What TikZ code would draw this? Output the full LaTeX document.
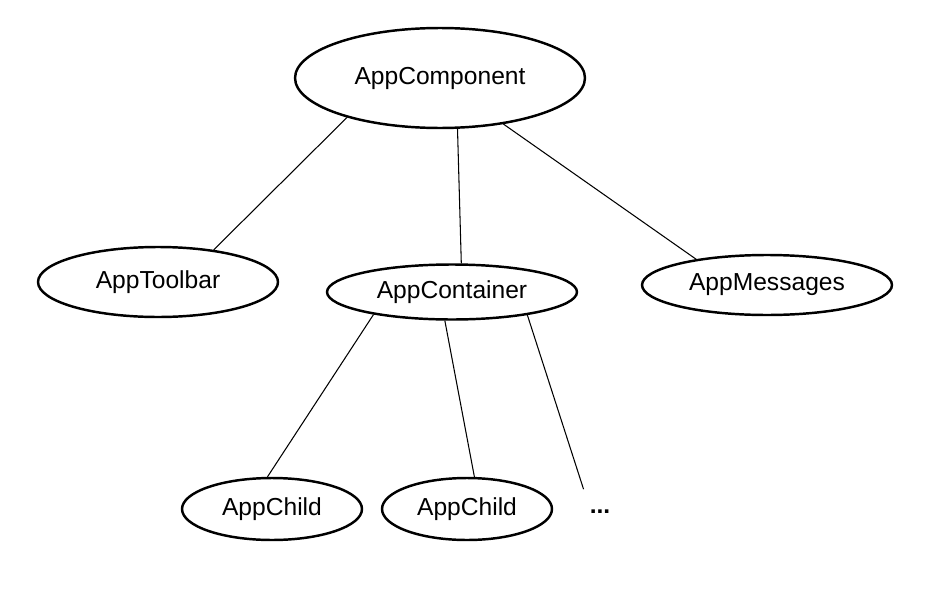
\documentclass[tikz,border=0pt]{standalone}
\usepackage{fontspec}
\setmainfont{Liberation Sans}
\usepackage{tikz}
\usetikzlibrary{shapes.geometric}
\usetikzlibrary{positioning}

\begin{document}
\begin{tikzpicture}[x=0.02cm, y=-0.02cm,
    part/.style={draw, ellipse, line width=1.4pt, inner sep=0pt, font=\fontsize{14}{16}\selectfont},
    link/.style={line width=0.6pt}]
            \useasboundingbox (0,0) rectangle (926,605);
            \draw (440,78) node[part, minimum width=5.8cm, minimum height=2cm]       (comp) {AppComponent};
            \draw (158,282) node[part, minimum width=4.8cm, minimum height=1.4cm]    (tool) {AppToolbar};
            \draw (452,292) node[part, minimum width=5cm, minimum height=1.1cm]      (cont) {AppContainer};
            \draw (767,285) node[part, minimum width=5cm, minimum height=1.2cm]      (msg) {AppMessages};
            \draw (272,509) node[part, minimum width=3.6cm, minimum height=1.24cm]   (childa) {AppChild};
            \draw (467,509) node[part, minimum width=3.4cm, minimum height=1.24cm]   (childb) {AppChild};
            \draw (600,512) node[font=\fontsize{14}{16}\bfseries, minimum height=0.9cm] (dots) {...};
            \draw[link] (comp.203) -- (tool.30);
            \draw[link] (comp.289) -- (cont.72);
            \draw[link] (comp.324) -- (msg.160);
            \draw[link] (cont.196) -- (childa.98);
            \draw[link] (cont.256) -- (childb.77);
            \draw[link] (cont.343) -- (dots.north west);
\end{tikzpicture}
\end{document}
